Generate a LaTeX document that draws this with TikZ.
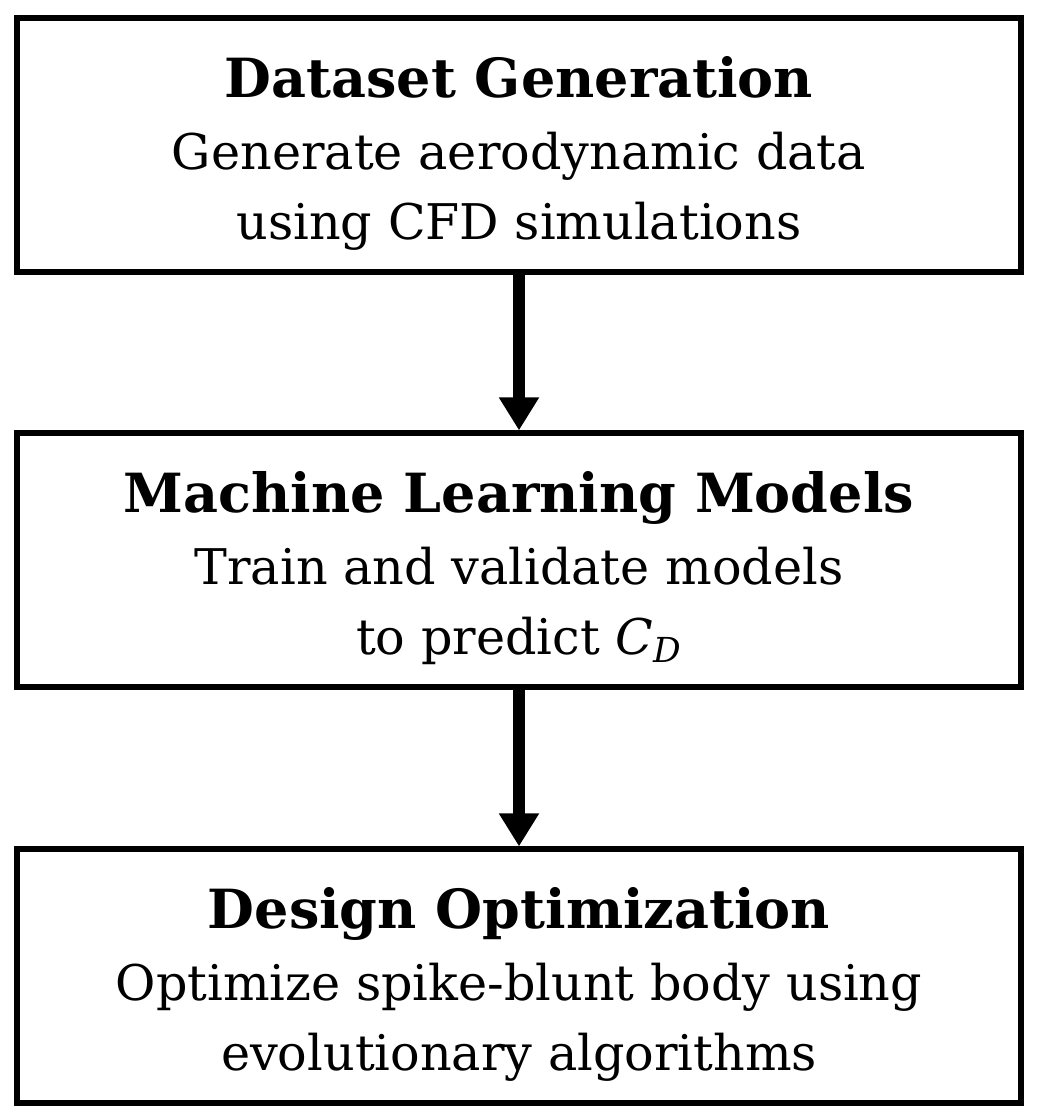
\documentclass[tikz,border=0pt]{standalone}
\usepackage{fontspec}
\setmainfont{DejaVu Serif}
\usetikzlibrary{arrows.meta}
\tikzset{
stage/.style={draw=black, line width=2.6pt, minimum width=502pt, minimum height=127pt, align=center, inner sep=0pt, font=\fontsize{24.6}{35}\selectfont},
flow/.style={line width=6pt, -{Triangle[width=19pt,length=16.5pt]}}}
\newcommand{\heading}[1]{\rule{0pt}{29pt}{\fontsize{27}{35}\selectfont\bfseries #1}}

\begin{document}
\begin{tikzpicture}[x=0.5pt, y=-0.5pt]

                \useasboundingbox (0,0) rectangle (1040,1120);

                \node[stage] (gen) at (519,145) {\heading{Dataset Generation}\\[1pt] Generate aerodynamic data\\ using CFD simulations};
                \node[stage] (ml) at (519,560) {\heading{Machine Learning Models}\\[1pt] Train and validate models\\ to predict \textit{C}\textsubscript{\textit{D}}};
                \node[stage] (opt) at (519,976) {\heading{Design Optimization}\\[1pt] Optimize spike-blunt body using\\ evolutionary algorithms};

                \draw[flow] (gen) -- (ml);
                \draw[flow] (ml) -- (opt);

            \end{tikzpicture}
\end{document}
